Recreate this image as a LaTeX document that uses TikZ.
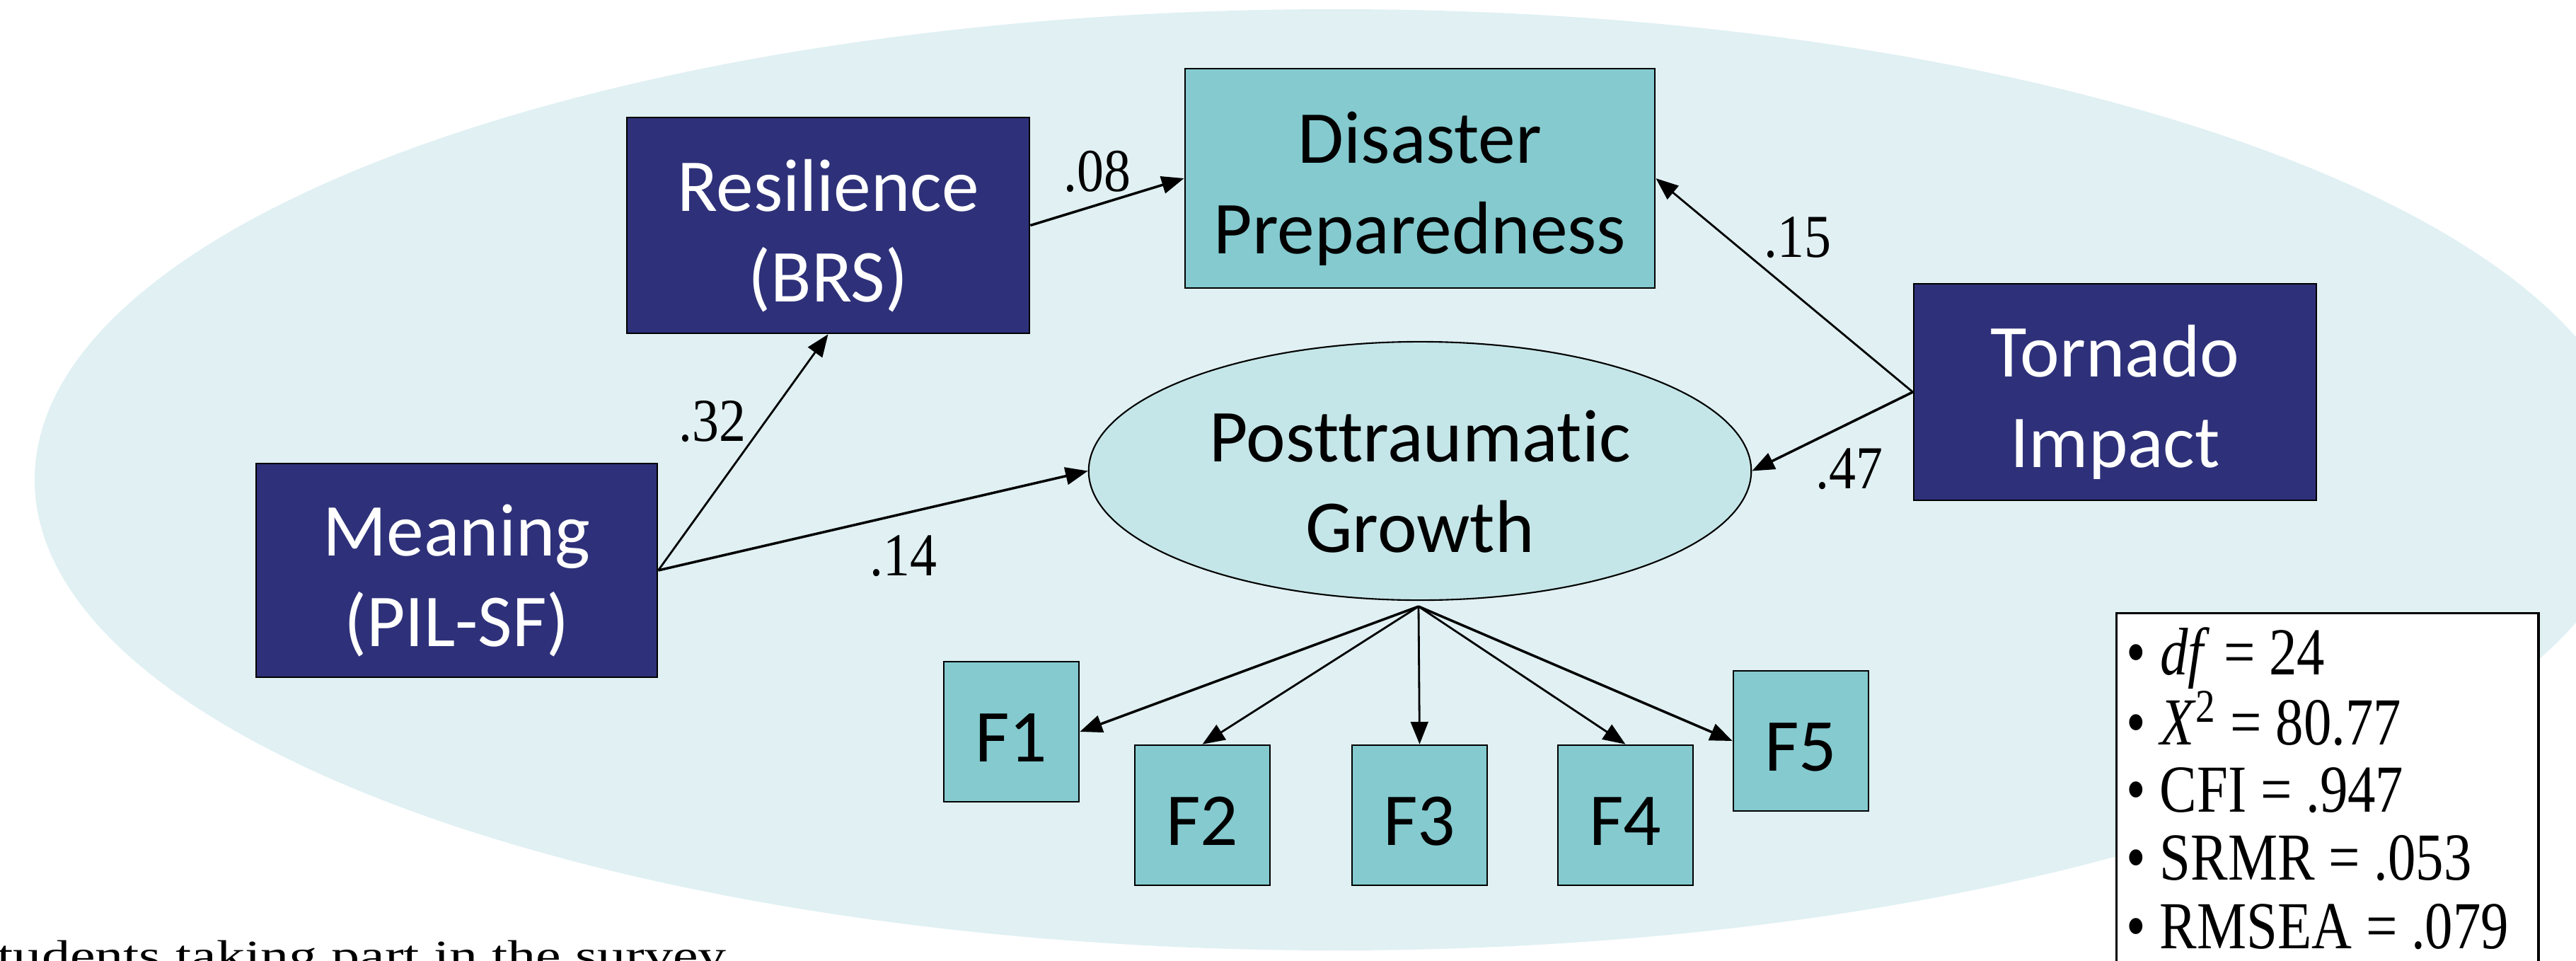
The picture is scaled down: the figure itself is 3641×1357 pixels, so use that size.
\documentclass[tikz,border=0pt]{standalone}
\usepackage{fontspec}
\setmainfont{Carlito}[Ligatures=NoCommon]
\newfontfamily\lblfont{Liberation Serif}[FakeStretch=0.88]
\newfontfamily\statfont{Liberation Serif}[FakeStretch=0.83]
\newfontfamily\notefont{Liberation Serif}[FakeStretch=1.34]
\usetikzlibrary{arrows.meta,shapes.geometric}
\definecolor{navy}{RGB}{46,49,121}
\definecolor{tealfill}{RGB}{132,202,207}
\definecolor{ptgfill}{RGB}{197,230,232}
\definecolor{bgblue}{RGB}{224,240,243}
\newcommand\tstrut{\rule{0pt}{29pt}}
\tikzset{
  boxtext/.style={font=\fontsize{30}{36.4}\selectfont, align=center, inner sep=0pt},
  navybox/.style={boxtext, draw=black, line width=0.7pt, fill=navy, text=white},
  tealbox/.style={boxtext, draw=black, line width=0.7pt, fill=tealfill, text=black},
  fbox/.style={draw=black, line width=0.7pt, fill=tealfill, font=\fontsize{30}{36.4}\selectfont,
     inner sep=0pt, minimum width=1.91cm, minimum height=1.98cm, text height=24pt, text depth=0pt},
  coef/.style={font=\lblfont\fontsize{24.5}{28}\selectfont, anchor=base west, inner sep=0pt},
  statline/.style={font=\statfont\fontsize{27}{30}\selectfont, anchor=base west, inner sep=0pt},
  arr/.style={-{Triangle[length=9pt,width=7pt]}, line width=1pt},
  arrthin/.style={-{Triangle[length=9pt,width=7pt]}, line width=0.8pt},
}
\begin{document}
\begin{tikzpicture}[x=0.01cm, y=-0.01cm]
\useasboundingbox (0,0) rectangle (3641,1357);
\clip (0,0) rectangle (3641,1357);
\fill[white] (0,0) rectangle (3641,1357);
% background ellipse
\fill[bgblue] (1888,678) ellipse [x radius=1839, y radius=665];

% stats box
\node[draw=black, line width=0.9pt, fill=white, minimum width=5.96cm, minimum height=5.6cm, inner sep=0pt, anchor=north west] (stats) at (2990,865) {};
\node[statline] (s1) at (3005,953) {• \textit{df} = 24};
\node[statline] (s2) at (3005,1052) {• \textit{X}\textsuperscript{2} = 80.77};
\node[statline] (s3) at (3005,1147) {• CFI = .947};
\node[statline] (s4) at (3005,1243) {• SRMR = .053};
\node[statline] (s5) at (3005,1340) {• RMSEA = .079};

% bottom text (cut by the lower edge)
\node[font=\notefont\fontsize{17}{20}\selectfont, anchor=base west, inner sep=0pt] (note) at (-4,1370) {tudents taking part in the survey};

% main nodes
\node[navybox, minimum width=5.69cm, minimum height=3.05cm] (res) at (1170.5,318.5) {\tstrut Resilience\\(BRS)};
\node[tealbox, minimum width=6.64cm, minimum height=3.10cm] (dis) at (2007,252) {\tstrut Disaster\\Preparedness};
\node[navybox, minimum width=5.69cm, minimum height=3.06cm] (tor) at (2989.5,554) {\tstrut Tornado\\Impact};
\node[navybox, minimum width=5.67cm, minimum height=3.02cm] (mea) at (645.5,806) {\tstrut Meaning\\(PIL-SF)};
\node[boxtext, draw=black, line width=0.6pt, fill=ptgfill, ellipse, minimum width=9.36cm, minimum height=3.65cm] (ptg) at (2007,665.5) {\tstrut Posttraumatic\\Growth};

\node[fbox] (f1) at (1429.5,1034) {F1};
\node[fbox] (f2) at (1699.5,1152) {F2};
\node[fbox] (f3) at (2006.5,1152) {F3};
\node[fbox] (f4) at (2297.5,1152) {F4};
\node[fbox] (f5) at (2545.5,1047) {F5};

\coordinate (fan) at (2005,857);

% connectors
\draw[arrthin] (mea.east) -- (res.south);
\draw[arr] (mea.east) -- (ptg.west);
\draw[arr] (res.east) -- (dis.west);
\draw[arrthin] (tor.west) -- (dis.east);
\draw[arr] (tor.west) -- (ptg.east);
\draw[arr] (fan) -- (f1.east);
\draw[arrthin] (fan) -- (f2.north);
\draw[arrthin] (fan) -- (f3.north);
\draw[arrthin] (fan) -- (f4.north);
\draw[arr] (fan) -- (f5.west);

% coefficients
\node[coef] (c08) at (1503,270) {.08};
\node[coef] (c15) at (2493,363) {.15};
\node[coef] (c32) at (959,623) {.32};
\node[coef] (c14) at (1229,813) {.14};
\node[coef] (c47) at (2566,690) {.47};
\end{tikzpicture}
\end{document}
